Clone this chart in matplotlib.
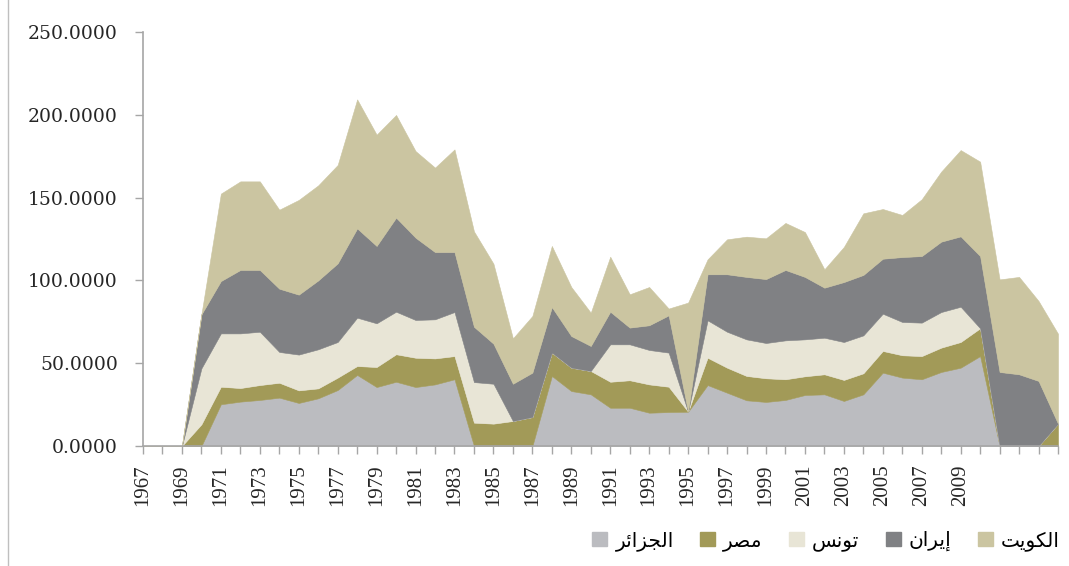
import matplotlib
matplotlib.use("Agg")
import matplotlib.pyplot as plt
import numpy as np
from matplotlib.lines import Line2D

years = list(range(1967, 2015))

algeria = [0, 0, 0, 0, 25.2, 26.8, 27.8, 29.2, 26.0, 28.8, 33.8, 42.9, 35.6, 38.8, 35.6, 37.2, 40.3,
           0, 0, 0, 0, 42.3, 33.2, 31.2, 23.1, 23.1, 20.1, 20.5, 20.7, 36.8, 32.2, 27.6, 26.6, 27.8,
           30.8, 31.2, 27.2, 31.2, 44.3, 41.3, 40.3, 44.7, 47.3, 54.3, 0, 0, 0, 0]
egypt = [0, 0, 0, 13.1, 10.6, 8.2, 9.0, 9.0, 7.6, 6.0, 7.5, 5.4, 12.1, 16.6, 17.7, 15.7, 14.0,
         14.1, 13.5, 15.1, 17.5, 14.1, 14.1, 14.1, 15.7, 16.6, 17.1, 15.3, 0, 16.5, 15.1, 14.7, 14.3,
         12.5, 11.3, 12.1, 12.7, 12.7, 13.1, 13.5, 14.0, 14.7, 15.5, 16.8, 0, 0, 0, 13.5]
tunisia = [0, 0, 0, 33.8, 32.2, 33.0, 32.2, 18.6, 21.6, 23.6, 21.5, 29.2, 26.4, 25.7, 22.8, 23.6, 26.6,
           24.5, 24.1, 0, 0, 0, 0, 0, 22.6, 21.7, 20.8, 20.6, 0, 22.6, 21.7, 22.1, 21.3, 23.5, 22.3,
           22.1, 22.9, 22.9, 22.5, 20.1, 20.2, 21.5, 21.3, 0, 0, 0, 0, 0]
iran = [0, 0, 0, 32.6, 31.6, 38.3, 37.3, 38.2, 36.2, 41.6, 47.5, 53.9, 46.7, 56.8, 49.7, 40.6, 36.2,
        33.4, 24.2, 22.5, 26.8, 27.5, 19.1, 15.1, 19.7, 10.1, 14.9, 22.5, 0, 27.8, 34.7, 37.7, 38.6,
        42.5, 37.7, 30.2, 36.2, 36.5, 33.2, 39.2, 40.2, 42.5, 42.5, 43.6, 44.7, 43.3, 39.3, 0]
kuwait = [0, 0, 0, 0, 52.8, 53.5, 53.5, 47.7, 57.2, 57.4, 59.4, 77.9, 67.2, 62.0, 52.3, 51.0, 62.0,
          57.6, 48.3, 27.4, 34.2, 36.9, 29.6, 20.1, 33.2, 20.1, 23.1, 4.1, 65.9, 9.0, 21.1, 24.3, 24.6,
          28.4, 27.1, 11.1, 21.2, 37.2, 30.0, 25.4, 34.3, 42.3, 52.1, 57.0, 55.9, 58.8, 48.3, 54.3]

names = ["الجزائر", "مصر", "تونس", "إيران", "الكويت"]
colors = ["#BBBCC0", "#A29A58", "#E8E5D6", "#808184", "#CBC5A1"]

# arabic letters -> (isolated, final, initial, medial) presentation forms
FORMS = {
    "ا": ("\uFE8D", "\uFE8E", None, None),
    "إ": ("\uFE87", "\uFE88", None, None),
    "ل": ("\uFEDD", "\uFEDE", "\uFEDF", "\uFEE0"),
    "ك": ("\uFED9", "\uFEDA", "\uFEDB", "\uFEDC"),
    "و": ("\uFEED", "\uFEEE", None, None),
    "ي": ("\uFEF1", "\uFEF2", "\uFEF3", "\uFEF4"),
    "ت": ("\uFE95", "\uFE96", "\uFE97", "\uFE98"),
    "ج": ("\uFE9D", "\uFE9E", "\uFE9F", "\uFEA0"),
    "ز": ("\uFEAF", "\uFEB0", None, None),
    "ئ": ("\uFE89", "\uFE8A", "\uFE8B", "\uFE8C"),
    "ر": ("\uFEAD", "\uFEAE", None, None),
    "م": ("\uFEE1", "\uFEE2", "\uFEE3", "\uFEE4"),
    "ص": ("\uFEB9", "\uFEBA", "\uFEBB", "\uFEBC"),
    "ن": ("\uFEE5", "\uFEE6", "\uFEE7", "\uFEE8"),
    "س": ("\uFEB1", "\uFEB2", "\uFEB3", "\uFEB4"),
}


def shape(word):
    out = []
    for i, ch in enumerate(word):
        iso, fin, ini, med = FORMS[ch]
        jp = i > 0 and FORMS[word[i-1]][2] is not None
        jn = i < len(word)-1 and ini is not None
        if jp and jn:
            out.append(med)
        elif jp:
            out.append(fin)
        elif jn:
            out.append(ini)
        else:
            out.append(iso)
    return "".join(reversed(out))


fig = plt.figure(figsize=(10.69, 5.66), dpi=100)
ax = fig.add_axes([143/1069, 1-446/566, (1058-143)/1069, (446-32)/566])

series = [algeria, egypt, tunisia, iran, kuwait]
bottom = np.zeros(len(years))
for s, c in zip(series, colors):
    top = bottom + np.array(s)
    ax.fill_between(years, bottom, top, color=c, edgecolor=c, lw=0.4)
    bottom = top

ax.set_xlim(1967, 2014)
ax.set_ylim(0, 250)
ax.set_yticks(range(0, 251, 50))
ax.set_yticklabels(["%.4f" % v for v in range(0, 251, 50)], family="DejaVu Serif", fontsize=13.5, color="#262626")
ax.set_xticks(years)
ax.set_xticklabels([str(y) if (y % 2 == 1 and y <= 2009) else "" for y in years],
                   rotation=90, family="Liberation Serif", fontsize=15, color="#262626")
ax.tick_params(axis="y", length=6, width=1, color="#A6A6A6", pad=12)
ax.tick_params(axis="x", length=6, width=1, color="#A6A6A6", pad=7)
for sp in ["top", "right"]:
    ax.spines[sp].set_visible(False)
for sp in ["left", "bottom"]:
    ax.spines[sp].set_color("#A6A6A6")
    ax.spines[sp].set_linewidth(1.2)

handles = [plt.Rectangle((0, 0), 1, 1, color=c) for c in colors]
fig.legend(handles, [shape(n) for n in names], loc="center", bbox_to_anchor=(826/1069, 1-541/566),
           ncol=5, frameon=False, prop={"family": "DejaVu Sans", "size": 14.5},
           handlelength=0.75, handleheight=0.75, handletextpad=0.4, columnspacing=1.3)

fig.add_artist(Line2D([8/1069, 8/1069], [0, 1], transform=fig.transFigure, color="#BFBFBF", lw=1))

fig.savefig("out.png", dpi=100)
